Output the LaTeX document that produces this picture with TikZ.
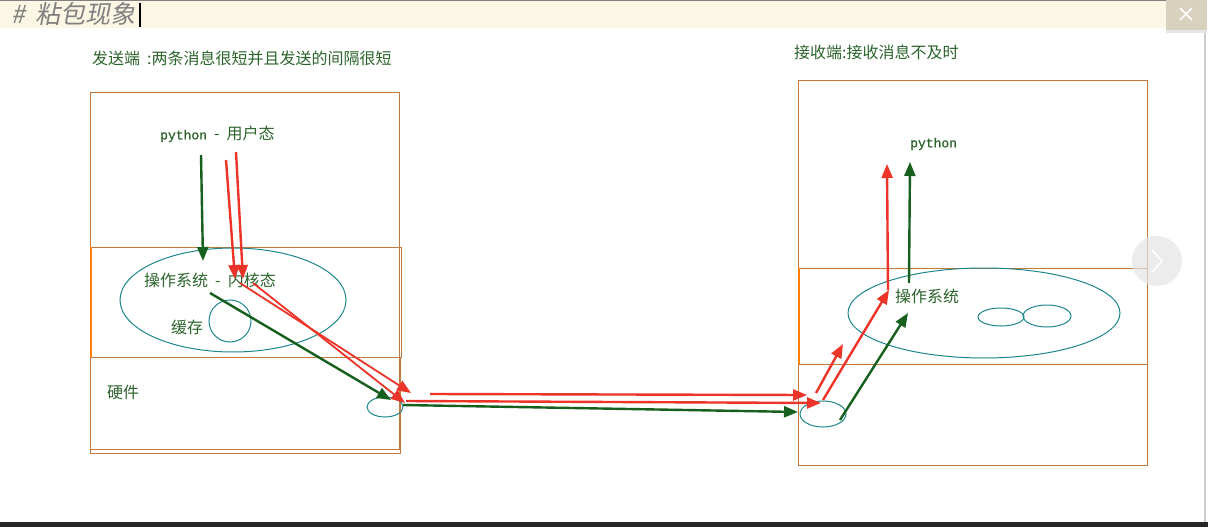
\documentclass[tikz,border=0pt]{standalone}
\usepackage{fontspec}
\setmainfont{Noto Sans CJK SC}
\newfontfamily\pyfont[FakeBold=1]{Liberation Mono}
\newfontfamily\headfont[FakeSlant=0.2]{Noto Sans CJK SC}
\usepackage{xcolor}
\usepackage{tikz}
\usetikzlibrary{arrows.meta,shapes.geometric}
\definecolor{boxc}{RGB}{196,120,60}
\definecolor{tealc}{RGB}{30,135,140}
\definecolor{txtg}{RGB}{44,100,44}
\definecolor{redc}{RGB}{236,52,40}
\definecolor{grnc}{RGB}{22,95,28}
\definecolor{headc}{RGB}{252,246,228}
\definecolor{closec}{RGB}{216,209,190}
\newcommand{\gap}{\hspace{7pt}}
\begin{document}
\begin{tikzpicture}[x=1pt,y=-1pt,font=\fontsize{16}{19}\selectfont,
  box/.style={draw=boxc,line width=1},
  ell/.style={draw=tealc,line width=1,ellipse,inner sep=0},
  lab/.style={anchor=west,text=txtg,inner sep=0},
  redarr/.style={draw=redc,line width=2.4,-{Triangle[length=14,width=11]}},
  grnarr/.style={draw=grnc,line width=2.4,-{Triangle[length=14,width=11]}}]
\useasboundingbox (0,0) rectangle (1208,527);
\fill[white] (0,0) rectangle (1208,527);
% header
\fill[headc] (0,0) rectangle (1166,28); \draw[gray,line width=1.5] (0,0.75)--(1166,0.75);
\node[anchor=west,text=gray,inner sep=0,font=\headfont\fontsize{25}{28}\selectfont] (title) at (11,14) {\#\hspace{10pt}粘包现象};
\draw[black,line width=2] (140,3)--(140,27);
\fill[closec] (1166,0) rectangle (1207,30); \fill[gray!20] (1166,30) rectangle (1207,33);
\draw[white,line width=1.5] (1180,8)--(1192,20) (1192,8)--(1180,20);
\fill[black!85] (0,522) rectangle (1208,527); \draw[gray!40,line width=1.5] (1205,33)--(1205,522);
% sender
\node[lab] (sendt) at (92,58) {发送端\gap{}:两条消息很短并且发送的间隔很短};
\draw[box] (90,93) rectangle (399,449); \draw[box] (90,357) rectangle (400,453);
\draw[box] (91,247) rectangle (401,357); \draw[orange,line width=1.5] (91,247)--(91,357);
\node[ell,minimum width=226,minimum height=104] (kernL) at (233,300) {};
\node[ell,circle,minimum size=42] (buf) at (230,321) {};
\node[ell,minimum width=36,minimum height=20] (nicL) at (385,407) {};
\node[lab] (user) at (160,134) {{\pyfont\fontsize{13}{16}\selectfont python}\gap{}-\gap{}用户态};
\node[lab] (kernt) at (144,280) {操作系统\gap{}-\gap{}内核态};
\node[lab] (buft) at (171,327) {缓存};
\node[lab] (hwL) at (107,392) {硬件};
% receiver
\node[lab] (recvt) at (794,52) {接收端:接收消息不及时};
\draw[box] (798,81) rectangle (1147,465); \draw[box] (799,364)--(1147,364);
\draw[box] (799,268) rectangle (1147,364); \draw[orange,line width=1.5] (799,268)--(799,364);
\node[ell,minimum width=272,minimum height=90] (kernR) at (984,313) {};
\node[ell,minimum width=46,minimum height=18] (bufA) at (1001,317) {};
\node[ell,minimum width=48,minimum height=22] (bufB) at (1047,316) {};
\node[ell,minimum width=46,minimum height=26] (nicR) at (823,414) {};
\node[lab] (pyR) at (910,144) {\pyfont\fontsize{13}{16}\selectfont python};
\node[lab] (osR) at (895,296) {操作系统};
% sender arrows
\coordinate (g1) at (201,155); \coordinate (g2) at (203,261);
\coordinate (r1) at (226,160); \coordinate (r2) at (235,279);
\coordinate (s1) at (236,152); \coordinate (s2) at (243,279);
\draw[grnarr] (g1)--(g2); \draw[redarr] (r1)--(r2); \draw[redarr] (s1)--(s2);
\coordinate (r3) at (240,283); \coordinate (r4) at (411,393);
\coordinate (s3) at (253,283); \coordinate (s4) at (405,403);
\coordinate (g3) at (210,293); \coordinate (g4) at (391,400);
\draw[redarr,line width=1.8] (r3)--(r4); \draw[redarr,line width=1.8] (s3)--(s4); \draw[grnarr] (g3)--(g4);
% wire
\coordinate (w1) at (430,394); \coordinate (w2) at (807,395);
\coordinate (w3) at (406,401); \coordinate (w4) at (821,403);
\coordinate (w5) at (403,405); \coordinate (w6) at (798,412);
\draw[redarr] (w1)--(w2); \draw[redarr] (w3)--(w4); \draw[grnarr] (w5)--(w6);
% receiver arrows
\coordinate (t1) at (816,393); \coordinate (t2) at (843,344);
\coordinate (t3) at (823,400); \coordinate (t4) at (889,290);
\coordinate (h1) at (840,420); \coordinate (h2) at (908,313);
\draw[redarr] (t1)--(t2); \draw[redarr] (t3)--(t4); \draw[grnarr] (h1)--(h2);
\coordinate (u1) at (888,290); \coordinate (u2) at (887,164);
\coordinate (v1) at (909,283); \coordinate (v2) at (910,162);
\draw[redarr] (u1)--(u2); \draw[grnarr] (v1)--(v2);
% slide button
\fill[gray!20,opacity=0.7] (1157,261) circle (25);
\draw[white,line width=1.5] (1152,250)--(1162,261)--(1152,272);
\end{tikzpicture}
\end{document}
